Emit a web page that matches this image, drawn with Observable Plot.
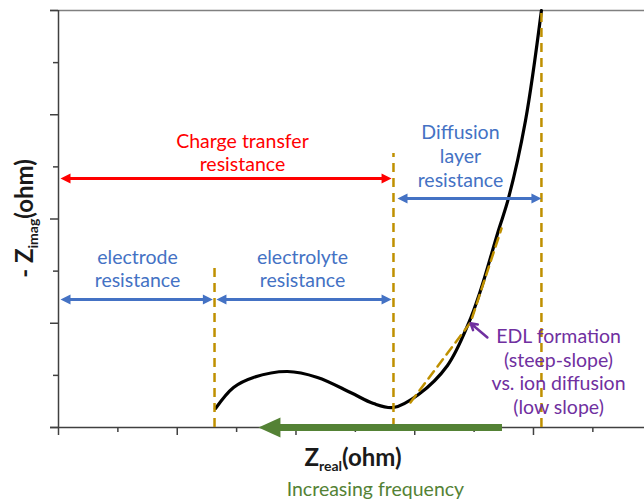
<!DOCTYPE html>
<html>
<head>
<meta charset="utf-8">
<script src="https://cdn.jsdelivr.net/npm/d3@7"></script>
<script src="https://cdn.jsdelivr.net/npm/@observablehq/plot@0.6"></script>
<style>
  html, body { margin: 0; padding: 0; background: #fff; }
  #chart svg { display: block; }
</style>
</head>
<body>
<div id="chart"></div>
<script>
// ---- Data (schematic Nyquist plot, arbitrary ohm units) ----
const xMajorTicks = [0, 1, 2, 3, 4];
const xMinorTicks = [0.5, 1.5, 2.5, 3.5, 4.5];
const yMajorTicks = [0, 1, 2, 3, 4];
const yMinorTicks = [0.5, 1.5, 2.5, 3.5];

// Nyquist curve: Z_real vs -Z_imag
const zReal = [1.322, 1.474, 1.642, 1.928, 2.181, 2.459, 2.653, 2.821, 3.032, 3.276, 3.453, 3.554, 3.705, 3.789, 3.933, 4.067];
const zImag = [0.182, 0.384, 0.480, 0.537, 0.480, 0.336, 0.230, 0.192, 0.317, 0.595, 0.998, 1.314, 1.890, 2.197, 2.945, 4.000];

// Boundaries (dashed guides)
const guideX    = [1.314, 2.821, 4.067];
const guideTop  = [1.573, 2.628, 4.000];

// EDL / diffusion slopes (dashed): low slope then steep slope
const slopeX = [2.964, 3.470, 3.731];
const slopeY = [0.240, 1.007, 1.910];

// Resistance spans (double arrows)
const spanNames = ["Charge transfer", "electrode", "electrolyte", "Diffusion layer"];
const spanFrom  = [0.017, 0.017, 1.330, 2.855];
const spanTo    = [2.805, 1.300, 2.805, 4.067];
const spanLevel = [2.388, 1.228, 1.228, 2.197];
const spanColor = ["#FF0000", "#4472C4", "#4472C4", "#4472C4"];

// Annotation labels
const labelText  = ["Charge transfer\nresistance", "electrode\nresistance", "electrolyte\nresistance",
                    "Diffusion\nlayer\nresistance", "EDL formation\n(steep-slope)\nvs. ion diffusion\n(low slope)",
                    "Increasing frequency"];
const labelX     = [1.549, 0.665, 2.055, 3.385, 4.211, 2.669];
const labelY     = [2.643, 1.530, 1.530, 2.609, 0.542, -0.585];
const labelColor = ["#FF0000", "#4472C4", "#4472C4", "#4472C4", "#7030A0", "#548235"];

// EDL pointer arrow
const pointerFrom = [3.612, 0.863];
const pointerTo   = [3.470, 1.000];

// Increasing frequency arrow (along the real axis, pointing left)
const freqStart = 3.739;
const freqEnd   = 1.684;

// ---- Build tables ----
const curve = zReal.map((x, i) => ({x, y: zImag[i]}));
const guides = guideX.map((x, i) => ({x, y2: guideTop[i]}));
const slopes = slopeX.map((x, i) => ({x, y: slopeY[i]}));
const spans = spanNames.map((name, i) => ({name, from: spanFrom[i], to: spanTo[i], y: spanLevel[i], color: spanColor[i]}));
const labels = labelText.map((text, i) => ({text, x: labelX[i], y: labelY[i], color: labelColor[i]}));

// custom arrowhead symbol: tip at origin, pointing right
const head = (L, W) => ({
  draw(ctx) { ctx.moveTo(0, 0); ctx.lineTo(-L, -W / 2); ctx.lineTo(-L, W / 2); ctx.closePath(); }
});

const font = "Lato, 'Open Sans', sans-serif";
const axisColor = "#404040";
const gold = "#BF9000";
const green = "#548235";

const chart = Plot.plot({
  width: 644,
  height: 499,
  marginLeft: 58,
  marginRight: 0,
  marginTop: 10,
  marginBottom: 72,
  x: {domain: [0, 4.935], axis: null},
  y: {domain: [0, 4], axis: null},
  style: {fontFamily: font, background: "white"},
  marks: [
    // axes frame
    Plot.ruleY([4], {stroke: "#808080", strokeWidth: 1.5, insetLeft: -8}),
    Plot.ruleY([0], {stroke: axisColor, strokeWidth: 1.5, insetLeft: -8}),
    Plot.ruleX([0], {y1: 0, y2: 4, stroke: axisColor, strokeWidth: 1.5}),
    Plot.axisX(xMajorTicks, {tickSize: 8, tickFormat: () => "", stroke: axisColor, strokeWidth: 1.5, label: null}),
    Plot.axisX(xMinorTicks, {tickSize: 5, tickFormat: () => "", stroke: axisColor, strokeWidth: 1.5, label: null}),
    Plot.axisY(yMajorTicks, {tickSize: 8, tickFormat: () => "", stroke: axisColor, strokeWidth: 1.5, label: null}),
    Plot.axisY(yMinorTicks, {tickSize: 5, tickFormat: () => "", stroke: axisColor, strokeWidth: 1.5, label: null}),

    // Nyquist curve
    Plot.line(curve, {x: "x", y: "y", curve: "catmull-rom", stroke: "black", strokeWidth: 3.2}),

    // dashed guides
    Plot.ruleX(guides, {x: "x", y1: 0, y2: "y2", stroke: gold, strokeWidth: 2.5, strokeDasharray: "9,6"}),
    Plot.line(slopes, {x: "x", y: "y", stroke: gold, strokeWidth: 2.5, strokeDasharray: "9,6"}),

    // double arrows
    Plot.ruleY(spans, {y: "y", x1: "from", x2: "to", stroke: "color", strokeWidth: 3, insetLeft: 6, insetRight: 6}),
    Plot.dot(spans, {x: "from", y: "y", symbol: head(10, 10), rotate: 180, fill: "color", stroke: "none"}),
    Plot.dot(spans, {x: "to", y: "y", symbol: head(10, 10), rotate: 0, fill: "color", stroke: "none"}),

    // frequency arrow
    Plot.ruleY([0], {x1: freqEnd, x2: freqStart, stroke: green, strokeWidth: 7, insetLeft: 18}),
    Plot.dot([0], {x: freqEnd, y: 0, symbol: head(22, 20), rotate: 180, fill: green, stroke: "none"}),

    // EDL pointer
    Plot.arrow([0], {x1: pointerFrom[0], y1: pointerFrom[1], x2: pointerTo[0], y2: pointerTo[1],
                     stroke: "#7030A0", strokeWidth: 2.5, headLength: 9}),

    // annotations
    Plot.text(labels, {x: "x", y: "y", text: "text", fill: "color", fontSize: 19.5, lineHeight: 1.22})
  ]
});

document.getElementById("chart").append(chart);

// axis titles with subscripts
const svg = d3.select(chart);
const xs = chart.scale("x"), ys = chart.scale("y");
const xMid = (xs.range[0] + xs.range[1]) / 2;
const yMid = (ys.range[0] + ys.range[1]) / 2;

const xt = svg.append("text")
  .attr("x", xMid + 2).attr("y", ys.range[0] + 39)
  .attr("text-anchor", "middle")
  .attr("font-family", font)
  .attr("font-weight", "bold").attr("font-size", 24).attr("fill", "#1a1a1a");
xt.append("tspan").text("Z");
xt.append("tspan").attr("font-size", 14).attr("dy", 5).text("real");
xt.append("tspan").attr("dy", -5).text("(ohm)");

const yt = svg.append("text")
  .attr("transform", `translate(33,${yMid}) rotate(-90)`)
  .attr("text-anchor", "middle")
  .attr("font-family", font)
  .attr("font-weight", "bold").attr("font-size", 24).attr("fill", "#1a1a1a");
yt.append("tspan").text("- Z");
yt.append("tspan").attr("font-size", 14).attr("dy", 5).text("imag");
yt.append("tspan").attr("dy", -5).text("(ohm)");
</script>
</body>
</html>
